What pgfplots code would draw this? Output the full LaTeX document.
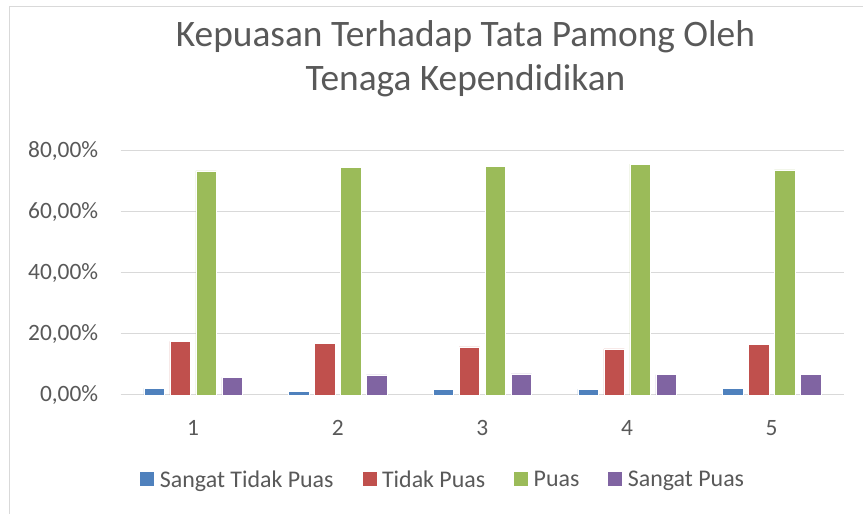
\documentclass[border=0pt]{standalone}
\usepackage{pgfplots}
\pgfplotsset{compat=1.18}
\usepackage{fontspec}
\setmainfont{Carlito}
\definecolor{txt}{HTML}{595959}
\definecolor{gridc}{HTML}{D9D9D9}
\definecolor{cA}{HTML}{4F81BD}
\definecolor{cB}{HTML}{C0504D}
\definecolor{cC}{HTML}{9BBB59}
\definecolor{cD}{HTML}{8064A2}
\pgfplotsset{sqleg/.style={legend image code/.code={\fill[#1,draw=none] (0bp,-6.5bp) rectangle (14bp,7.5bp); \path[draw=none,fill=none] (0bp,0bp) -- (17.5bp,0bp);}}}
\begin{document}
\begin{tikzpicture}[x=1bp,y=1bp]
\useasboundingbox (0,0) rectangle (863,514);
\fill[white] (0,0) rectangle (863,514);
\draw[gridc, line width=1bp] (9.5,-10) rectangle (880,507);
\node[anchor=base, text=txt, font=\fontsize{37.5}{44}\selectfont] at (465.5,467) {Kepuasan Terhadap Tata Pamong Oleh};
\node[anchor=base, text=txt, font=\fontsize{37.5}{44}\selectfont] at (465.5,423) {Tenaga Kependidikan};
\begin{axis}[
  at={(120.7bp,119bp)}, anchor=south west,
  scale only axis, width=723.3bp, height=244bp,
  xmin=0.5, xmax=5.5, ymin=0, ymax=80,
  ybar=5.5bp, bar width=20.5bp,
  xtick={1,2,3,4,5}, xticklabels={1,2,3,4,5},
  ytick={0,20,40,60,80},
  yticklabel={\pgfmathprintnumber[fixed,fixed zerofill,precision=2,use comma]{\tick}\%},
  /pgf/number format/assume math mode=true,
  major tick length=0pt,
  axis line style={draw=none},
  ymajorgrids, xmajorgrids=false, major grid style={draw=gridc, line width=1bp},
  tick label style={text=txt, font=\fontsize{23.5}{27}\selectfont},
  y tick label style={xshift=-19bp},
  x tick label style={yshift=-22bp},
  legend columns=4,
  legend style={at={(0.446,-0.348)}, anchor=center, draw=none, fill=none,
    font=\fontsize{24}{28}\selectfont, text=txt,
    /tikz/every even column/.append style={column sep=27bp}},
]
\addplot[fill=cA, draw=white, line width=0.4bp, sqleg] coordinates {(1,2.2) (2,1.3) (3,1.9) (4,1.9) (5,2.1)};
\addplot[fill=cB, draw=white, line width=0.4bp, sqleg] coordinates {(1,17.6) (2,16.9) (3,15.8) (4,15.1) (5,16.7)};
\addplot[fill=cC, draw=white, line width=0.4bp, sqleg] coordinates {(1,73.5) (2,74.6) (3,74.9) (4,75.7) (5,73.8)};
\addplot[fill=cD, draw=white, line width=0.4bp, sqleg] coordinates {(1,5.8) (2,6.6) (3,6.9) (4,6.7) (5,6.8)};
\legend{Sangat Tidak Puas, Tidak Puas, Puas, Sangat Puas}
\end{axis}
\end{tikzpicture}
\end{document}
